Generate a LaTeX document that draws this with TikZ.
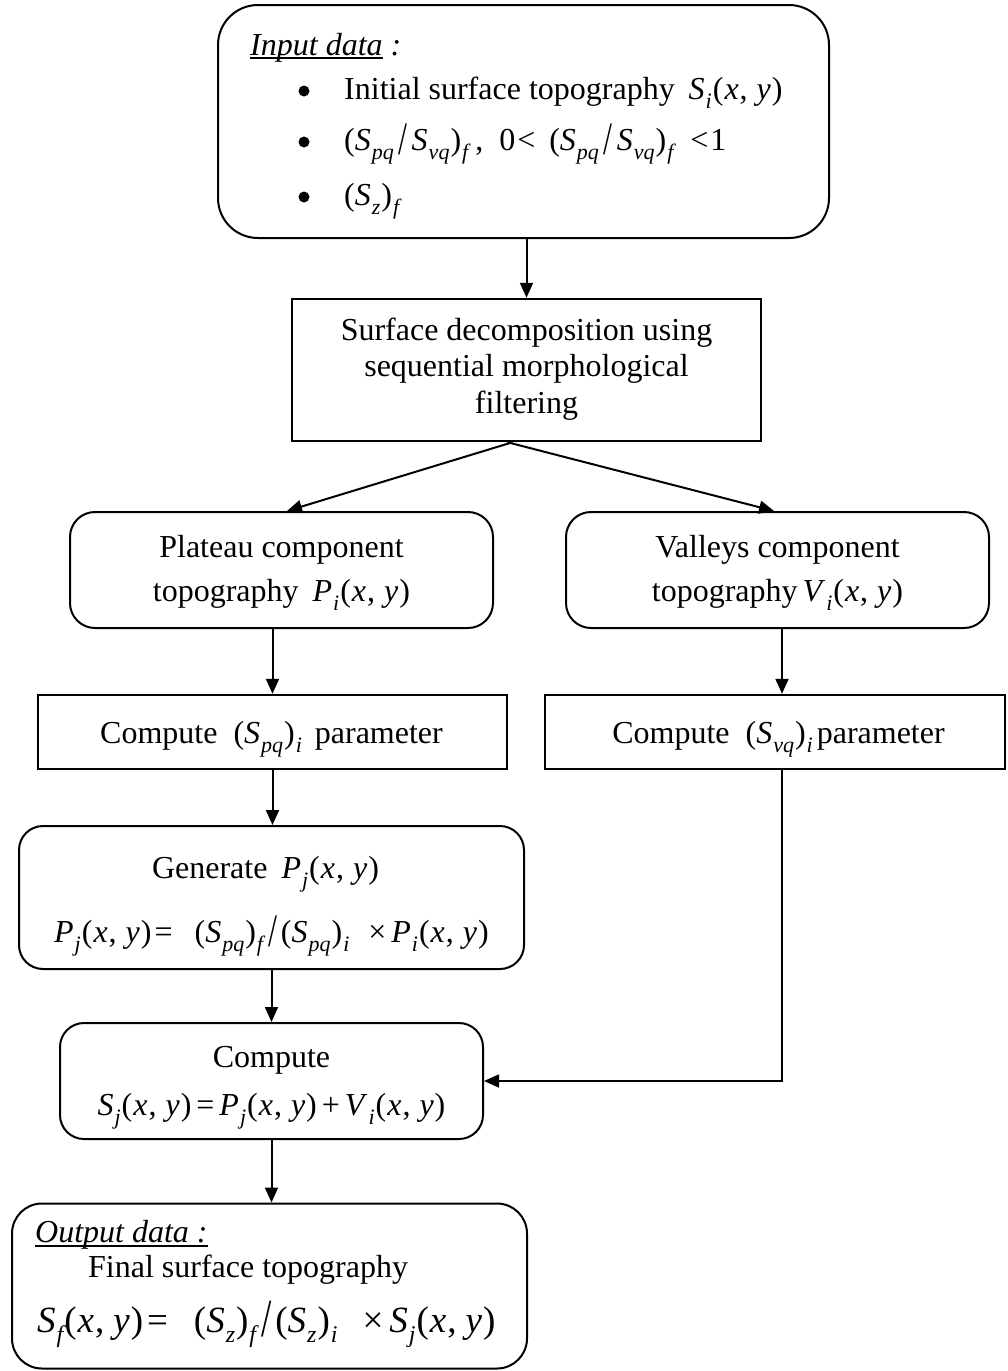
\documentclass[tikz,border=0pt]{standalone}
\usepackage{fontspec}
\usepackage{graphicx}
\setmainfont{Liberation Serif}
\usetikzlibrary{arrows.meta,calc}
\newcommand\mi[1]{\textit{#1}}
\newcommand\sbs[1]{\kern1pt\raisebox{-9pt}{\fontsize{22}{22}\selectfont\itshape #1}\kern1pt}
\newcommand\sbL[1]{\kern1pt\raisebox{-10pt}{\fontsize{24}{24}\selectfont\itshape #1}\kern1pt}
\newcommand\slsh{\kern4pt\raisebox{-4pt}{\scalebox{1}[1.45]{/}}\kern4pt}
\newcommand\XY{(\kern1pt\mi{x}\kern1pt,\hspace{9pt}\mi{y}\kern1pt)}
\newsavebox\ulbox
\newcommand\ulin[1]{\sbox\ulbox{#1}\rlap{\rule[-4pt]{\wd\ulbox}{1.6pt}}\usebox\ulbox}
\begin{document}
\begin{tikzpicture}[x=1pt,y=-1pt,
  rbox/.style={draw, line width=2pt, inner sep=0pt},
  sbox/.style={draw, line width=2.5pt, inner sep=0pt},
  txt/.style={inner sep=0pt, font=\fontsize{32}{37}\selectfont},
  bullet/.style={circle, fill=black, inner sep=0pt, minimum size=11pt},
  arr/.style={line width=2pt, -{Triangle[length=15pt,width=13pt]}},
  thinarr/.style={line width=1.6pt, -{Triangle[length=15pt,width=13pt]}}]
\useasboundingbox (0,0) rectangle (1007,1371);
% boxes
\node[rbox, rounded corners=40pt, minimum width=611pt, minimum height=233pt] (input) at (523.5,121.5) {};
\node[sbox, minimum width=469pt, minimum height=142pt] (dec) at (526.5,370) {};
\node[rbox, rounded corners=25pt, minimum width=423pt, minimum height=116pt] (pl) at (281.5,570) {};
\node[rbox, rounded corners=25pt, minimum width=423pt, minimum height=116pt] (va) at (777.5,570) {};
\node[sbox, minimum width=469pt, minimum height=74pt] (cpq) at (272.5,732) {};
\node[sbox, minimum width=460pt, minimum height=74pt] (cvq) at (775,732) {};
\node[rbox, rounded corners=24pt, minimum width=505pt, minimum height=143pt] (gen) at (271.5,897.5) {};
\node[rbox, rounded corners=24pt, minimum width=423pt, minimum height=116pt] (cmp) at (271.5,1081) {};
\node[rbox, rounded corners=30pt, minimum width=515pt, minimum height=165pt] (out) at (269.5,1286) {};
% bullets
\node[bullet] (b1) at (304,91) {};
\node[bullet] (b2) at (304,142) {};
\node[bullet] (b3) at (304,197) {};
% texts (anchor base = baseline of the last line)
\node[txt, align=left, anchor=base west, font=\fontsize{32}{44}\selectfont] (inputT) at (250,205)
 {\ulin{\itshape Input data} \textit{:}\\
  \hspace*{94pt}Initial surface topography\hspace{14pt}\mi{S}\sbs{i}\XY\\[7pt]
  \hspace*{94pt}(\mi{S}\sbs{pq}\slsh\mi{S}\sbs{vq})\sbs{f}\kern6pt,\hspace{16pt}0\kern2pt<\hspace{14pt}(\mi{S}\sbs{pq}\slsh\mi{S}\sbs{vq})\sbs{f}\hspace{16pt}<\kern2pt1\\[11pt]
  \hspace*{94pt}(\mi{S}\sbs{z})\sbs{f}};
\node[txt, align=center, anchor=base, font=\fontsize{32}{36.5}\selectfont] (decT) at (526.5,413)
 {Surface decomposition using\\sequential morphological\\filtering};
\node[txt, align=center, anchor=base, font=\fontsize{32}{44}\selectfont] (plT) at (281.5,601)
 {Plateau component\\topography\hspace{14pt}\mi{P}\sbs{i}\XY};
\node[txt, align=center, anchor=base, font=\fontsize{32}{44}\selectfont] (vaT) at (777.5,601)
 {Valleys component\\topography\hspace{5pt}\mi{V}\sbs{i}\XY};
\node[txt, anchor=base] (cpqT) at (271.5,743)
 {Compute\hspace{16pt}(\mi{S}\sbs{pq})\sbs{i}\hspace{12pt}parameter};
\node[txt, anchor=base] (cvqT) at (778.5,743)
 {Compute\hspace{16pt}(\mi{S}\sbs{vq})\sbs{i}\hspace{3pt}parameter};
\node[txt, align=center, anchor=base, font=\fontsize{32}{64}\selectfont] (genT) at (271.5,942)
 {\hspace*{-12pt}Generate\hspace{14pt}\mi{P}\sbs{j}\XY\\
  \mi{P}\sbs{j}\XY\kern3pt=\hspace{22pt}(\mi{S}\sbs{pq})\sbs{f}\slsh(\mi{S}\sbs{pq})\sbs{i}\hspace{18pt}×\kern5pt\mi{P}\sbs{i}\XY};
\node[txt, align=center, anchor=base, font=\fontsize{32}{48}\selectfont] (cmpT) at (271.5,1115)
 {Compute\\ \mi{S}\sbs{j}\XY\kern5pt=\kern5pt\mi{P}\sbs{j}\XY\kern5pt+\kern5pt\mi{V}\sbs{i}\XY};
\node[txt, align=left, anchor=base west, font=\fontsize{32}{35}\selectfont] (outT) at (35,1332)
 {\ulin{\itshape Output data :}\\
  \hspace*{53pt}Final surface topography\\[15pt]
  \hspace*{2pt}{\fontsize{37}{35}\selectfont\mi{S}\sbL{f}\XY\kern4pt=\hspace{26pt}(\mi{S}\sbL{z})\sbL{f}\slsh(\mi{S}\sbL{z})\sbL{i}\hspace{24pt}×\kern6pt\mi{S}\sbL{j}\XY}};
% connectors
\draw[arr] (input.south -| dec.north) -- (dec.north);
\draw[arr] ([xshift=-14pt]dec.south) -- ([xshift=5.5pt]pl.north);
\draw[arr] ([xshift=-19pt]dec.south) -- ([xshift=-3.5pt]va.north);
\draw[arr] (pl.south -| cpq.north) -- (cpq.north);
\draw[arr] ([xshift=7pt]cvq.north |- va.south) -- ([xshift=7pt]cvq.north);
\draw[arr] (cpq.south) -- (cpq.south |- gen.north);
\draw[arr] (gen.south) -- (gen.south |- cmp.north);
\draw[thinarr] ([xshift=7pt]cvq.south) |- (cmp.east);
\draw[arr] (cmp.south) -- (cmp.south |- out.north);
\end{tikzpicture}
\end{document}
